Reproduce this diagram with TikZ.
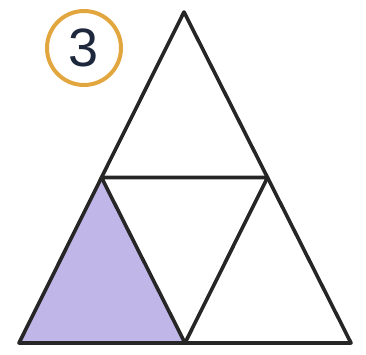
\documentclass[tikz,border=0pt]{standalone}
\usepackage{fontspec}
\setmainfont{Liberation Sans}
\usetikzlibrary{calc}
\definecolor{lav}{RGB}{192,182,232}
\definecolor{ring}{RGB}{226,166,62}
\definecolor{digit}{RGB}{30,40,60}
\begin{document}
\begin{tikzpicture}[x=1pt,y=-1pt,
  edge/.style={line width=3.6pt,line join=round,line cap=round,black!85}]
\useasboundingbox (0,0) rectangle (366,354);
\coordinate (A) at (184,12);
\coordinate (B) at (19,343);
\coordinate (C) at (351,343);
\coordinate (L) at ($(A)!0.5!(B)$);
\coordinate (R) at ($(A)!0.5!(C)$);
\coordinate (M) at ($(B)!0.5!(C)$);
\fill[lav] (B) -- (L) -- (M) -- cycle;
\draw[edge] (A) -- (B) -- (C) -- cycle;
\draw[edge] (L) -- (R) -- (M) -- cycle;
\node[circle,draw=ring,line width=4pt,minimum size=74pt,inner sep=0pt,
  text=digit,font=\fontsize{54}{60}\selectfont] (n) at (84,48) {3};
\end{tikzpicture}
\end{document}
